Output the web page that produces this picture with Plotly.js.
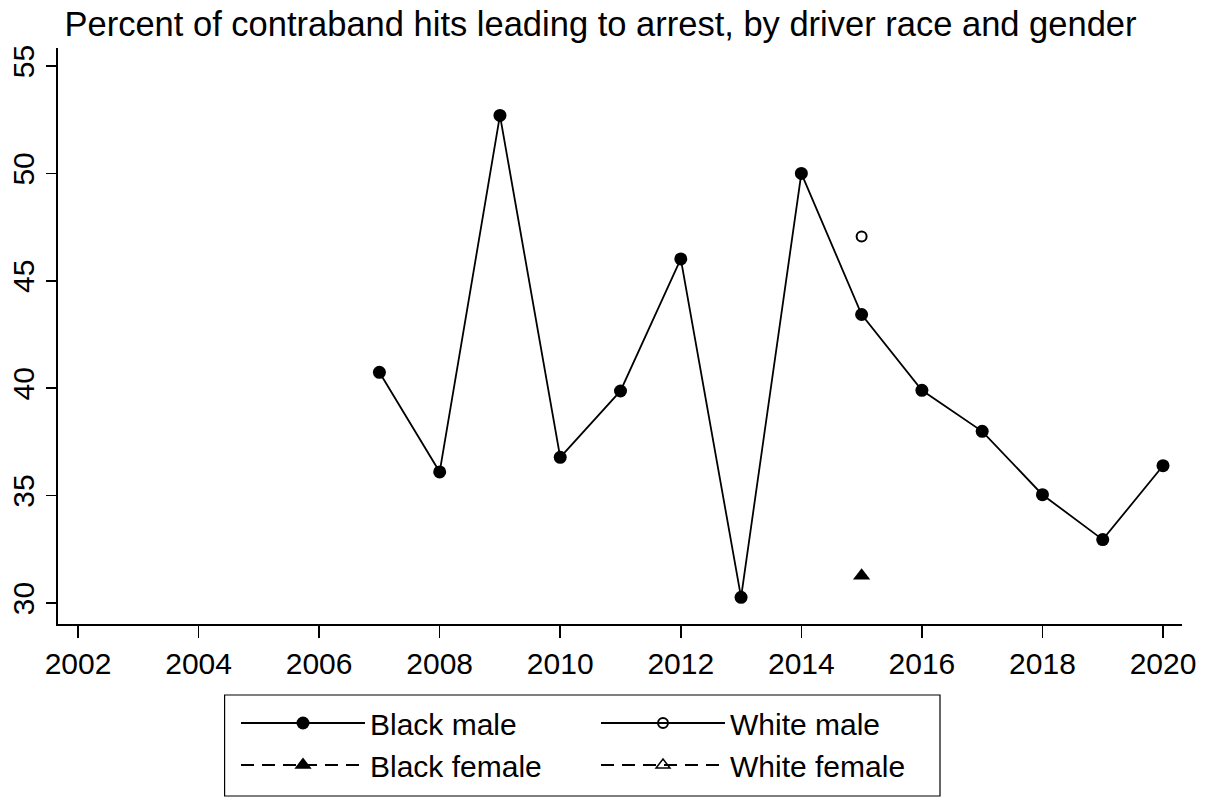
<!DOCTYPE html>
<html>
<head>
<meta charset="utf-8">
<script src="https://cdn.plot.ly/plotly-3.0.1.min.js"></script>
<style>
  html, body { margin: 0; padding: 0; background: #ffffff; }
  #chart { width: 1210px; height: 797px; }
</style>
</head>
<body>
<div id="chart"></div>
<script>
// ---- data ----
var years = [2007, 2008, 2009, 2010, 2011, 2012, 2013, 2014, 2015, 2016, 2017, 2018, 2019, 2020];
var blackMale = [40.74, 36.10, 52.70, 36.78, 39.87, 46.02, 30.26, 50.00, 43.43, 39.90, 37.99, 35.04, 32.95, 36.39];
var whiteMaleYears = [2015];
var whiteMale = [47.06];
var blackFemaleYears = [2015];
var blackFemale = [31.27];
var whiteFemaleYears = [2015];
var whiteFemale = [null];   // no observed value: legend entry only
var xTicks = [2002, 2004, 2006, 2008, 2010, 2012, 2014, 2016, 2018, 2020];
var yTicks = [30, 35, 40, 45, 50, 55];
var seriesNames = ['Black male', 'White male', 'Black female', 'White female'];
var titleText = 'Percent of contraband hits leading to arrest, by driver race and gender';

var FONT = 'Liberation Sans, Arial, sans-serif';
var INK = '#000000';

var traces = [
  {
    x: years, y: blackMale, name: seriesNames[0], type: 'scatter', mode: 'lines+markers',
    legend: 'legend',
    line: { color: INK, width: 1.8 },
    marker: { symbol: 'circle', size: 13, color: INK }
  },
  {
    x: blackFemaleYears, y: blackFemale, name: seriesNames[2], type: 'scatter', mode: 'lines+markers',
    legend: 'legend',
    line: { color: INK, width: 1.8, dash: '13px,8px' },
    marker: { symbol: 'triangle-up', size: 15, color: INK }
  },
  {
    x: whiteMaleYears, y: whiteMale, name: seriesNames[1], type: 'scatter', mode: 'lines+markers',
    legend: 'legend2',
    line: { color: INK, width: 1.8 },
    marker: { symbol: 'circle-open', size: 10, color: INK, line: { width: 2, color: INK } }
  },
  {
    x: whiteFemaleYears, y: whiteFemale, name: seriesNames[3], type: 'scatter', mode: 'lines+markers',
    legend: 'legend2',
    line: { color: INK, width: 1.8, dash: '13px,8px' },
    marker: { symbol: 'triangle-up-open', size: 12, color: INK, line: { width: 1.5, color: INK } }
  }
];

function legendAt(xpx) {
  return {
    orientation: 'v',
    xref: 'paper', x: (xpx - 58) / 1124, xanchor: 'left',
    yref: 'container', y: 1 - 697 / 797, yanchor: 'top',
    borderwidth: 0,
    bgcolor: 'rgba(0,0,0,0)',
    font: { family: FONT, size: 30, color: INK },
    itemwidth: 124,
    traceorder: 'normal',
    itemclick: false, itemdoubleclick: false
  };
}

var layout = {
  width: 1210, height: 797,
  paper_bgcolor: '#ffffff', plot_bgcolor: '#ffffff',
  margin: { l: 58, r: 28, t: 48, b: 173 },
  font: { family: FONT, color: INK, size: 30 },
  title: {
    text: titleText,
    font: { family: FONT, size: 34.5, color: INK },
    x: 0.4963, xanchor: 'center', xref: 'container',
    y: 0.970, yanchor: 'middle', yref: 'container'
  },
  xaxis: {
    range: [2001.668, 2020.315],
    tickmode: 'array', tickvals: xTicks, ticktext: xTicks.map(String),
    showgrid: false, zeroline: false,
    showline: true, linecolor: INK, linewidth: 1.6,
    ticks: 'outside', ticklen: 12, tickwidth: 1.6, tickcolor: INK,
    tickfont: { family: FONT, size: 30, color: INK }
  },
  yaxis: {
    range: [29.02, 55.84],
    tickmode: 'array', tickvals: yTicks, ticktext: yTicks.map(String),
    tickangle: -90,
    showgrid: false, zeroline: false,
    showline: true, linecolor: INK, linewidth: 1.6,
    ticks: 'outside', ticklen: 10, tickwidth: 1.6, tickcolor: INK,
    tickfont: { family: FONT, size: 30, color: INK }
  },
  showlegend: true,
  legend: legendAt(236),
  legend2: legendAt(596),
  shapes: [
    {
      type: 'rect', xref: 'paper', yref: 'paper',
      x0: (224.6 - 58) / 1124, x1: (940 - 58) / 1124,
      y0: (624 - 695) / 576, y1: (624 - 796) / 576,
      line: { color: INK, width: 1.2 }, fillcolor: 'rgba(0,0,0,0)', layer: 'above'
    }
  ]
};

Plotly.newPlot('chart', traces, layout, { displayModeBar: false, staticPlot: true });
</script>
</body>
</html>
